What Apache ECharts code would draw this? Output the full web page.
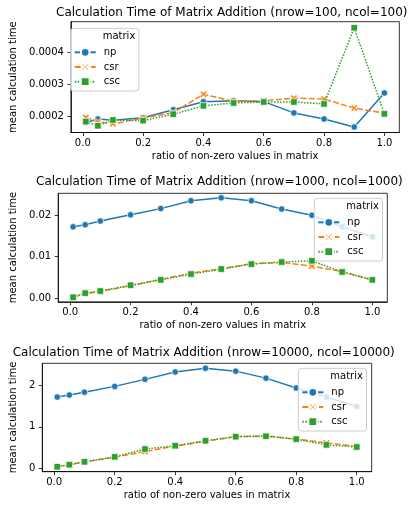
<!DOCTYPE html>
<html>
<head>
<meta charset="utf-8">
<script src="https://cdn.jsdelivr.net/npm/echarts@6/dist/echarts.min.js"></script>
<style>html,body{margin:0;padding:0;background:#fff;}#c{width:420px;height:510px;}</style>
</head>
<body>
<div id="c"></div>
<script>
// ---- data ----
const ratios = [0.01, 0.05, 0.1, 0.2, 0.3, 0.4, 0.5, 0.6, 0.7, 0.8, 0.9, 1.0];
const seriesNames = ['np', 'csr', 'csc'];
const titles = [
  'Calculation Time of Matrix Addition (nrow=100, ncol=100)',
  'Calculation Time of Matrix Addition (nrow=1000, ncol=1000)',
  'Calculation Time of Matrix Addition (nrow=10000, ncol=10000)'
];
const n100_np  = [0.000181, 0.000192, 0.000188, 0.000196, 0.000221, 0.000246, 0.000249, 0.000246, 0.000211, 0.000192, 0.000167, 0.000273];
const n100_csr = [0.000197, 0.000183, 0.000177, 0.000195, 0.000212, 0.000269, 0.000247, 0.000249, 0.000257, 0.000254, 0.000226, 0.000210];
const n100_csc = [0.000184, 0.000171, 0.000189, 0.000187, 0.000207, 0.000233, 0.000242, 0.000245, 0.000245, 0.000239, 0.000476, 0.000208];
const n1000_np  = [0.0172, 0.0177, 0.0186, 0.0201, 0.0216, 0.0235, 0.0242, 0.0235, 0.0215, 0.0200, 0.0172, 0.0148];
const n1000_csr = [0.0002, 0.0011, 0.0016, 0.0030, 0.0045, 0.0060, 0.0071, 0.0083, 0.0086, 0.0077, 0.0064, 0.0044];
const n1000_csc = [0.0002, 0.0012, 0.0017, 0.0031, 0.0044, 0.0058, 0.0070, 0.0082, 0.0087, 0.0090, 0.0063, 0.0044];
const n10000_np  = [1.72, 1.77, 1.84, 1.98, 2.15, 2.33, 2.42, 2.35, 2.18, 1.94, 1.72, 1.49];
const n10000_csr = [0.03, 0.08, 0.15, 0.26, 0.40, 0.53, 0.65, 0.76, 0.78, 0.70, 0.61, 0.52];
const n10000_csc = [0.03, 0.08, 0.15, 0.27, 0.46, 0.54, 0.66, 0.76, 0.77, 0.70, 0.56, 0.51];
const xTicks = [0, 0.2, 0.4, 0.6, 0.8, 1.0];
const yTicks100 = [0.0002, 0.0003, 0.0004];
const yTicks1000 = [0, 0.01, 0.02];
const yTicks10000 = [0, 1, 2];

const panels = [
  {data: [n100_np, n100_csr, n100_csc], yTicks: yTicks100, dec: 4, ymin: 0.00015, ymax: 0.000495},
  {data: [n1000_np, n1000_csr, n1000_csc], yTicks: yTicks1000, dec: 2, ymin: -0.0009, ymax: 0.0253},
  {data: [n10000_np, n10000_csr, n10000_csc], yTicks: yTicks10000, dec: 0, ymin: -0.09, ymax: 2.54}
];

// ---- layout / style ----
const FONT = '"DejaVu Sans", sans-serif';
const grids = [
  {left: 65.3, top: 21.7, width: 334, height: 110.8},
  {left: 52.5, top: 193.3, width: 334.8, height: 108.5},
  {left: 36.7, top: 363.3, width: 335, height: 108.4}
];
const titlePos = [{left: 56, top: 6}, {left: 36, top: 175.3}, {left: 12.7, top: 346.3}];
const legendPos = [{left: 70.7, top: 28.3}, {left: 314.3, top: 198.3}, {left: 298.3, top: 368.3}];
const colors = ['#1f77b4', '#ff7f0e', '#2ca02c'];
const symbols = ['circle', 'path://M2,0 L5,3 L8,0 L10,2 L7,5 L10,8 L8,10 L5,7 L2,10 L0,8 L3,5 L0,2 Z', 'rect'];
const symbolSizes = [6.5, 7, 6.5];
const lineTypes = ['solid', [6, 2.25], [1.5, 1.5]];

const option = {
  animation: false,
  textStyle: {fontFamily: FONT},
  title: titles.map((t, i) => ({
    text: t, left: titlePos[i].left, top: titlePos[i].top, padding: 0,
    textStyle: {fontFamily: FONT, fontSize: 12, fontWeight: 'normal', color: '#000', lineHeight: 14}
  })),
  grid: grids.map(g => Object.assign({show: true, borderColor: '#000', borderWidth: 0.8, backgroundColor: 'transparent'}, g)),
  xAxis: grids.map((g, i) => ({
    type: 'value', gridIndex: i, min: -0.0395, max: 1.0495,
    name: 'ratio of non-zero values in matrix', nameLocation: 'middle', nameGap: 19,
    nameTextStyle: {fontFamily: FONT, fontSize: 10, color: '#000'},
    axisLine: {show: true, onZero: false, lineStyle: {color: '#000', width: 0.8}},
    axisTick: {show: true, length: 3.5, lineStyle: {color: '#000', width: 0.8}, customValues: xTicks},
    axisLabel: {fontFamily: FONT, fontSize: 10, color: '#000', margin: 6, customValues: xTicks,
      formatter: v => v.toFixed(1)},
    splitLine: {show: false}
  })),
  yAxis: panels.map((p, i) => ({
    type: 'value', gridIndex: i, min: p.ymin, max: p.ymax,
    name: 'mean calculation time', nameLocation: 'middle', nameRotate: 90,
    nameGap: grids[i].left - 19.5,
    nameTextStyle: {fontFamily: FONT, fontSize: 10, color: '#000'},
    axisLine: {show: true, onZero: false, lineStyle: {color: '#000', width: 0.8}},
    axisTick: {show: true, length: 3.5, lineStyle: {color: '#000', width: 0.8}, customValues: p.yTicks},
    axisLabel: {fontFamily: FONT, fontSize: 10, color: '#000', margin: 7, customValues: p.yTicks,
      formatter: v => v.toFixed(p.dec)},
    splitLine: {show: false}
  })),
  legend: legendPos.map(lp => ({
    data: seriesNames, orient: 'vertical', left: lp.left, top: lp.top,
    padding: [18, 19, 3.3, 3], itemWidth: 21, itemHeight: 11, itemGap: 2.7,
    selectedMode: false,
    lineStyle: {width: 2},
    backgroundColor: 'rgba(255,255,255,0.8)', borderColor: '#cccccc', borderWidth: 1, borderRadius: 3,
    textStyle: {fontFamily: FONT, fontSize: 10, color: '#000', lineHeight: 12, padding: [0, 0, 0, 3]}
  })),
  graphic: legendPos.map(lp => ({
    type: 'text', x: lp.left + 32, y: lp.top + 7.7, z: 100,
    style: {text: 'matrix', fill: '#000', font: '10px "DejaVu Sans"', verticalAlign: 'middle', textVerticalAlign: 'middle'}
  })),
  series: []
};

panels.forEach((p, i) => {
  p.data.forEach((vals, k) => {
    option.series.push({
      type: 'line', name: seriesNames[k], xAxisIndex: i, yAxisIndex: i,
      data: ratios.map((r, j) => [r, vals[j]]),
      symbol: symbols[k], symbolSize: symbolSizes[k], showSymbol: true,
      itemStyle: {color: colors[k], borderColor: '#fff', borderWidth: 0.7},
      lineStyle: {color: colors[k], width: 1.5, type: lineTypes[k]},
      emphasis: {disabled: true}, silent: true, z: 2 + k
    });
  });
});

const chart = echarts.init(document.getElementById('c'), null, {renderer: 'canvas'});
chart.setOption(option);
</script>
</body>
</html>
